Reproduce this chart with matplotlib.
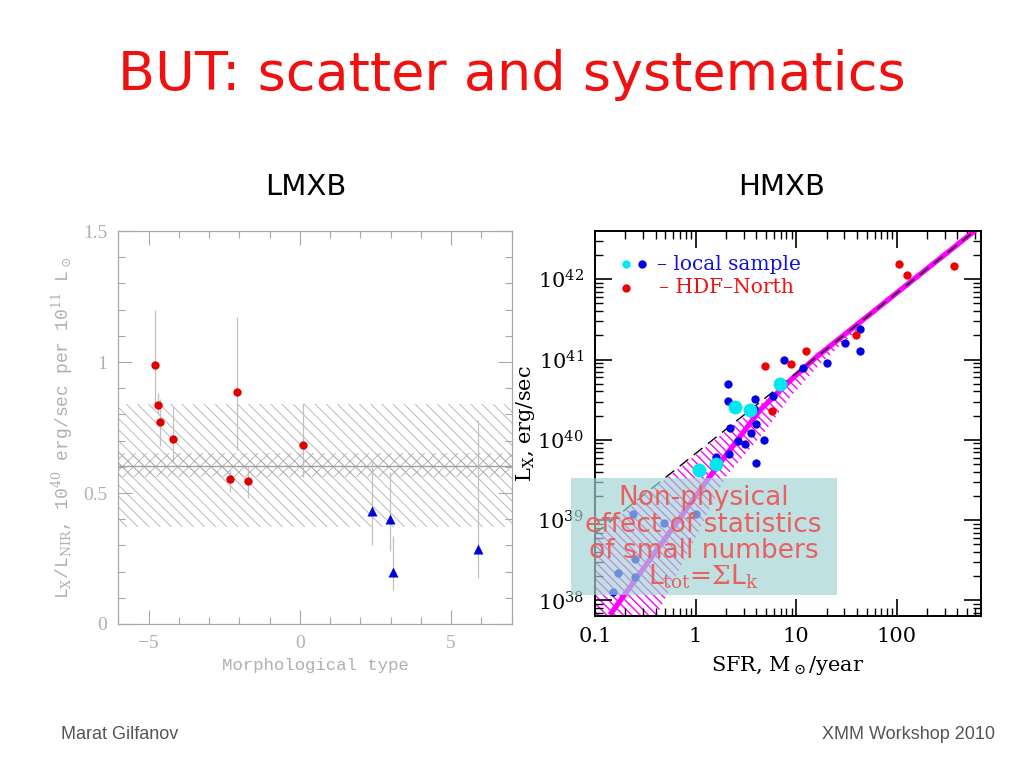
import numpy as np
import matplotlib
matplotlib.use('Agg')
import matplotlib.pyplot as plt
from matplotlib.ticker import MultipleLocator, FixedLocator, LogLocator, NullFormatter, FuncFormatter
from matplotlib.patches import Rectangle

# ---- LMXB panel: L_X/L_NIR vs morphological type ----
ell_type = [-4.77, -4.70, -4.63, -4.20, -2.30, -2.09, -1.70, 0.10]
ell_ratio = [0.99, 0.837, 0.77, 0.708, 0.552, 0.885, 0.547, 0.685]
ell_lo = [0.84, 0.80, 0.68, 0.613, 0.505, 0.664, 0.48, 0.562]
ell_hi = [1.20, 0.88, 0.86, 0.829, 0.588, 1.171, 0.60, 0.844]

sp_type = [2.39, 2.98, 3.07, 5.90]
sp_ratio = [0.433, 0.401, 0.199, 0.286]
sp_lo = [0.302, 0.277, 0.131, 0.175]
sp_hi = [0.626, 0.581, 0.334, 0.778]

mean_ratio = 0.604
mean_band = [0.562, 0.651]
rms_band = [0.369, 0.841]

# ---- HMXB panel: L_X vs SFR (log10 values) ----
local_sfr = [2.11, 2.08, 2.19, 2.13, 1.60, 2.63, 3.09, 3.52, 3.85, 3.80, 3.94, 3.94, 4.73,
             5.86, 7.53, 11.6, 20.4, 30.7, 42.9, 42.9, 0.24, 0.48, 1.0, 0.25, 0.17, 0.25, 0.15]
local_lx = [40.70, 40.48, 40.15, 39.82, 39.78, 39.99, 39.95, 40.08, 40.51, 40.38, 40.20, 39.71, 40.00,
            40.54, 41.00, 40.90, 40.96, 41.21, 41.38, 41.11, 39.08, 38.96, 39.08, 38.51, 38.34, 38.29, 38.11]
local_big_sfr = [2.46, 3.47, 6.89, 1.09, 1.59]
local_big_lx = [40.41, 40.37, 40.70, 39.63, 39.70]
hdf_sfr = [4.89, 8.85, 12.4, 5.69, 38.9, 105, 125, 372]
hdf_lx = [40.92, 40.95, 41.11, 40.36, 41.31, 42.19, 42.05, 42.16]

lin_sfr = [0.1, 680]
lin_lx = [38.83, 42.66]
nl_sfr = [0.141, 1.38, 4.37, 8.71, 15.8, 708]
nl_lx = [37.82, 39.54, 40.37, 40.74, 41.03, 42.68]
band_sfr = [0.1, 0.407, 2.0, 5.0, 8.71, 17.4, 39.8, 45.7]
band_hi = [38.80, 39.42, 40.11, 40.50, 40.76, 41.08, 41.45, 41.49]
band_lo = [36.30, 37.81, 39.54, 40.12, 40.53, 40.95, 41.36, 41.49]

box_lines = ['Non-physical', 'effect of statistics', 'of small numbers', r'L$_{\rm tot}$=$\Sigma$L$_{\rm k}$']

plt.rcParams['mathtext.fontset'] = 'dejavuserif'
fig = plt.figure(figsize=(10.24, 7.68), dpi=100)
fig.patch.set_facecolor('white')

fig.text(0.5, 0.902, 'BUT: scatter and systematics', color='#f01010', fontsize=39,
         ha='center', va='center', family='DejaVu Sans')
fig.text(0.299, 0.756, 'LMXB', fontsize=21, ha='center', va='center')
fig.text(0.763, 0.756, 'HMXB', fontsize=21, ha='center', va='center')
fig.text(0.060, 0.043, 'Marat Gilfanov', fontsize=13, color='#555555', family='Liberation Sans',
         ha='left', va='center')
fig.text(0.972, 0.043, 'XMM Workshop 2010', fontsize=13, color='#555555', family='Liberation Sans',
         ha='right', va='center')

# ---------------- left panel ----------------
gray = '#a8a8a8'
ax1 = fig.add_axes([0.1155, 0.1875, 0.3842, 0.5117])
ax1.set_xlim(-6, 7)
ax1.set_ylim(0, 1.5)

plt.rcParams['hatch.linewidth'] = 0.6
ax1.fill_between([-6, 7], rms_band[0], rms_band[1], facecolor='none', edgecolor='#b0b0b0',
                 linewidth=0, hatch='\\\\\\', zorder=1)
ax1.fill_between([-6, 7], mean_band[0], mean_band[1], facecolor='none', edgecolor='#b0b0b0',
                 linewidth=0, hatch='xxx', zorder=1)
ax1.axhline(mean_ratio, color='#a0a0a0', lw=1.0, zorder=2)

e = np.array(ell_ratio)
ax1.errorbar(ell_type, ell_ratio, yerr=[e - np.array(ell_lo), np.array(ell_hi) - e], fmt='none',
             ecolor='#c0c0c0', elinewidth=0.9, capsize=0, zorder=3)
s = np.array(sp_ratio)
ax1.errorbar(sp_type, sp_ratio, yerr=[s - np.array(sp_lo), np.array(sp_hi) - s], fmt='none',
             ecolor='#c0c0c0', elinewidth=0.9, capsize=0, zorder=3)
ax1.plot(ell_type, ell_ratio, 'o', color='#e00000', ms=6, mec='none', zorder=4)
ax1.plot(sp_type, sp_ratio, '^', color='#0000e0', ms=7.5, mec='none', zorder=4)

ax1.xaxis.set_major_locator(FixedLocator([-5, 0, 5]))
ax1.xaxis.set_minor_locator(MultipleLocator(1))
ax1.yaxis.set_major_locator(FixedLocator([0, 0.5, 1, 1.5]))
ax1.yaxis.set_minor_locator(MultipleLocator(0.1))
ax1.set_xticklabels(['\u22125', '0', '5'])
ax1.set_yticklabels(['0', '0.5', '1', '1.5'])
ax1.tick_params(which='both', direction='in', top=True, right=True, color=gray,
                labelcolor='#b0b0b0', labelsize=14, pad=8)
ax1.tick_params(which='major', length=10, width=0.8)
ax1.tick_params(which='minor', length=5, width=0.8)
for lab in ax1.get_xticklabels() + ax1.get_yticklabels():
    lab.set_family('Liberation Serif')
for sp in ax1.spines.values():
    sp.set_color(gray)
    sp.set_linewidth(0.9)
ax1.set_xlabel('Morphological type', family='Liberation Mono', fontsize=12.5, color='#b0b0b0', labelpad=4)
ax1.set_ylabel(r'L$_{\rm X}$/L$_{\rm NIR}$, 10$^{40}$ erg/sec per 10$^{11}$ L$_\odot$',
               family='Liberation Mono', fontsize=13, color='#b0b0b0', labelpad=6)

# ---------------- right panel ----------------
ax2 = fig.add_axes([0.581, 0.1983, 0.3767, 0.5009])
ax2.set_xscale('log')
ax2.set_yscale('log')
ax2.set_xlim(0.1, 680)
ax2.set_ylim(10**37.81, 10**42.6)

plt.rcParams['hatch.linewidth'] = 1.0
ax2.fill_between(band_sfr, 10**np.array(band_lo), 10**np.array(band_hi), facecolor='none',
                 edgecolor='#ff00ff', linewidth=0, hatch='\\\\\\\\', zorder=1)
ax2.plot(nl_sfr, 10**np.array(nl_lx), color='#ff00ff', lw=3.8, zorder=2, solid_capstyle='butt')
ax2.plot(lin_sfr, 10**np.array(lin_lx), color='black', lw=1.0, ls=(0, (8, 5)), zorder=3)

ax2.plot(local_sfr, 10**np.array(local_lx), 'o', color='#0000e6', ms=6, mec='none', zorder=4)
ax2.plot(local_big_sfr, 10**np.array(local_big_lx), 'o', color='#00e8f0', ms=10, mec='none', zorder=4)
ax2.plot(hdf_sfr, 10**np.array(hdf_lx), 'o', color='#f00000', ms=6, mec='none', zorder=4)

# legend drawn as in the original plot
ax2.plot([0.080], [0.914], 'o', color='#00e8f0', ms=6, mec='none', transform=ax2.transAxes)
ax2.plot([0.122], [0.914], 'o', color='#0000e6', ms=6, mec='none', transform=ax2.transAxes)
ax2.plot([0.080], [0.852], 'o', color='#f00000', ms=6, mec='none', transform=ax2.transAxes)
ax2.text(0.160, 0.914, '\u2013 local sample', transform=ax2.transAxes, color='#1010e0',
         fontsize=14.5, family='DejaVu Serif', va='center')
ax2.text(0.165, 0.852, '\u2013 HDF\u2013North', transform=ax2.transAxes, color='#f01010',
         fontsize=14.5, family='DejaVu Serif', va='center')

box = Rectangle((-0.063, 0.054), 0.69, 0.305, transform=ax2.transAxes, facecolor='#a3d3d3',
                alpha=0.68, edgecolor='none', clip_on=False, zorder=6)
ax2.add_patch(box)
for i, line in enumerate(box_lines):
    ax2.text(0.282, 0.305 - i * 0.068, line, transform=ax2.transAxes, color='#e86060',
             fontsize=19, ha='center', va='center', family='DejaVu Sans', zorder=7, clip_on=False)

ax2.xaxis.set_major_locator(FixedLocator([0.1, 1, 10, 100]))
ax2.xaxis.set_major_formatter(FuncFormatter(lambda v, p: '%g' % v))
ax2.xaxis.set_minor_locator(LogLocator(base=10, subs=np.arange(2, 10), numticks=20))
ax2.xaxis.set_minor_formatter(NullFormatter())
ax2.yaxis.set_major_locator(LogLocator(base=10, numticks=20))
ax2.yaxis.set_minor_locator(LogLocator(base=10, subs=np.arange(2, 10), numticks=20))
ax2.yaxis.set_minor_formatter(NullFormatter())
ax2.tick_params(which='both', direction='in', top=True, right=True, color='black',
                labelsize=15, pad=8)
ax2.tick_params(which='major', length=12, width=1.2)
ax2.tick_params(which='minor', length=6, width=1.0)
for lab in ax2.get_xticklabels() + ax2.get_yticklabels():
    lab.set_family('DejaVu Serif')
for sp in ax2.spines.values():
    sp.set_linewidth(1.4)
ax2.set_xlabel(r'SFR, M$_\odot$/year', family='DejaVu Serif', fontsize=15, labelpad=6)
ax2.set_ylabel(r'L$_{\rm X}$, erg/sec', family='DejaVu Serif', fontsize=15, labelpad=0)

fig.savefig('out.png', dpi=100, facecolor='white')
